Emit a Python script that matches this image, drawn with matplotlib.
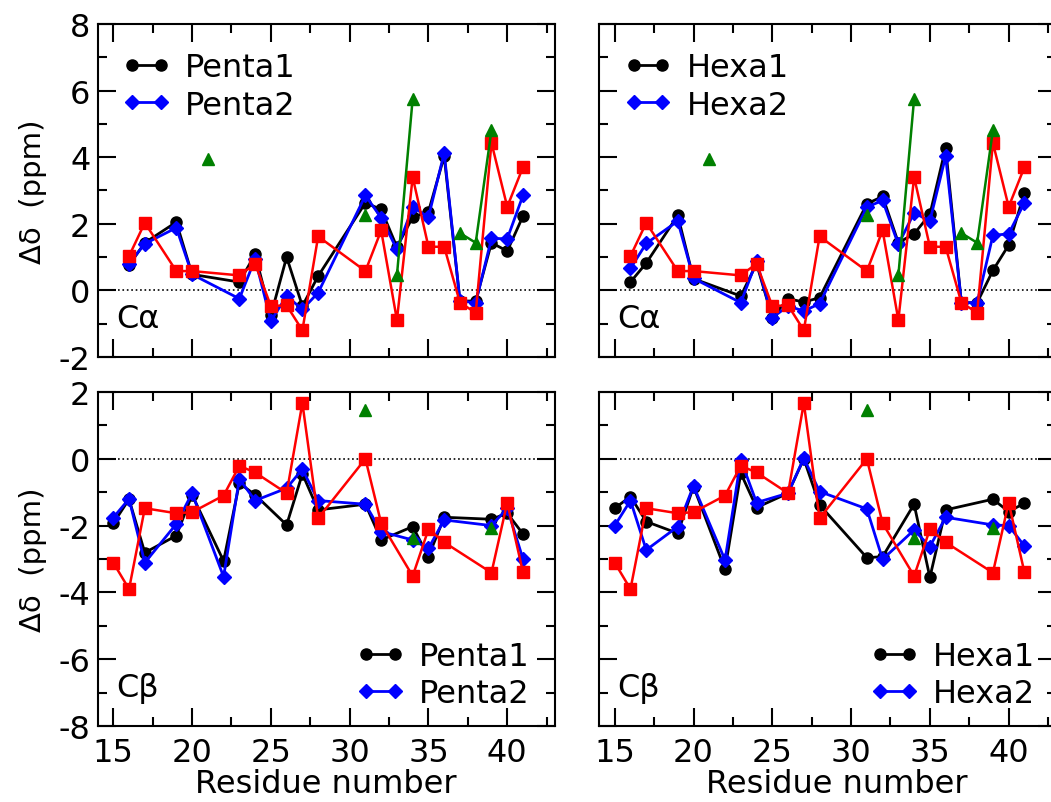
import numpy as np
import matplotlib
matplotlib.use('Agg')
import matplotlib.pyplot as plt
from matplotlib.ticker import MultipleLocator

plt.rcParams['font.family'] = ['DejaVu Sans']
plt.rcParams['axes.unicode_minus'] = False

# C-alpha shifts
ca_res = [16, 17, 19, 20, 23, 24, 25, 26, 27, 28, 31, 32, 33, 34, 35, 36, 37, 38, 39, 40, 41]
ca_penta1 = [0.76, 1.43, 2.05, 0.48, 0.25, 1.08, -0.75, 1.0, -0.47, 0.43, 2.63, 2.43,
             1.3, 2.2, 2.36, 4.03, -0.32, -0.32, 1.43, 1.18, 2.23]
ca_penta2 = [0.8, 1.4, 1.88, 0.48, -0.25, 0.95, -0.92, -0.17, -0.57, -0.07, 2.85, 2.18,
             1.23, 2.5, 2.2, 4.13, -0.32, -0.37, 1.56, 1.55, 2.85]
ca_hexa1 = [0.25, 0.82, 2.25, 0.35, -0.17, 0.8, -0.82, -0.25, -0.35, -0.22, 2.6, 2.82,
            1.43, 1.7, 2.28, 4.28, -0.37, -0.37, 0.6, 1.36, 2.93]
ca_hexa2 = [0.66, 1.41, 2.08, 0.36, -0.37, 0.88, -0.82, -0.47, -0.62, -0.4, 2.5, 2.7,
            1.38, 2.33, 2.08, 4.03, -0.37, -0.37, 1.65, 1.7, 2.63]
ca_ref = [1.03, 2.03, 0.58, 0.58, 0.45, 0.8, -0.47, -0.45, -1.2, 1.62, 0.58, 1.8,
          -0.89, 3.4, 1.31, 1.31, -0.37, -0.67, 4.43, 2.51, 3.7]
ca_alt_res = [21, 31, 33, 34, 37, 38, 39]
ca_alt = [3.96, 2.26, 0.45, 5.76, 1.72, 1.43, 4.81]

# C-beta shifts
cb_res = [15, 16, 17, 19, 20, 22, 23, 24, 26, 27, 28, 31, 32, 34, 35, 36, 39, 40, 41]
cb_penta1 = [-1.93, -1.21, -2.81, -2.3, -1.08, -3.06, -0.73, -1.08, -1.98, -0.45, -1.53,
             -1.36, -2.43, -2.03, -2.93, -1.75, -1.81, -1.63, -2.25]
cb_penta2 = [-1.76, -1.2, -3.11, -1.95, -1.03, -3.53, -0.6, -1.25, -0.88, -0.31, -1.25,
             -1.36, -2.18, -2.43, -2.68, -1.83, -2.0, -1.48, -3.0]
cb_hexa1 = [-1.48, -1.13, -1.88, -2.23, -0.83, -3.31, -0.43, -1.46, -1.03, 0.0, -1.38,
            -2.96, -2.93, -1.36, -3.55, -1.53, -1.21, -1.58, -1.33]
cb_hexa2 = [-2.0, -1.25, -2.73, -2.03, -0.81, -3.03, -0.03, -1.31, -1.03, 0.02, -0.98,
            -1.5, -3.01, -2.13, -2.63, -1.75, -1.98, -2.0, -2.61]
cb_ref = [-3.11, -3.9, -1.48, -1.63, -1.6, -1.1, -0.21, -0.41, -1.03, 1.67, -1.78,
          0.0, -1.93, -3.51, -2.11, -2.5, -3.41, -1.31, -3.4]
cb_alt_res = [31, 34, 39]
cb_alt = [1.45, -2.38, -2.08]

FS = 23


def with_gaps(res, vals):
    # only consecutive residues are joined by a line
    full = np.arange(min(res), max(res) + 1)
    out = np.full(len(full), np.nan)
    for r, v in zip(res, vals):
        out[r - full[0]] = v
    return full, out


def draw_panel(ax, res, s1, s2, ref, alt_res, alt, names, atom, ylim, top):
    ax.axhline(0, xmin=0.045, color='black', linestyle=':', linewidth=1.2)
    ax.plot(res, s1, color='black', marker='o', ms=8, lw=2, label=names[0])
    ax.plot(res, s2, color='blue', marker='D', ms=7.5, lw=2, label=names[1])
    ax.plot(res, ref, color='red', marker='s', ms=9, lw=1.8)
    gx, gy = with_gaps(alt_res, alt)
    ax.plot(gx, gy, color='green', marker='^', ms=8.5, lw=1.8)

    ax.set_xlim(14, 43)
    ax.set_ylim(*ylim)
    ax.xaxis.set_major_locator(MultipleLocator(5))
    ax.xaxis.set_minor_locator(MultipleLocator(2.5))
    ax.yaxis.set_major_locator(MultipleLocator(2))
    ax.yaxis.set_minor_locator(MultipleLocator(1))
    ax.tick_params(which='both', direction='in', top=True, right=True,
                   width=1.5, labelsize=FS)
    ax.tick_params(which='major', length=13)
    ax.tick_params(which='minor', length=6.5)
    ax.tick_params(axis='x', pad=8)
    ax.tick_params(axis='y', pad=5)
    for sp in ax.spines.values():
        sp.set_linewidth(1.5)

    ax.text(0.04, 0.115, atom, transform=ax.transAxes, fontsize=FS, va='center')

    if top:
        ax.legend(loc='upper left', bbox_to_anchor=(0.055, 0.915), frameon=False,
                  fontsize=FS, numpoints=2, handlelength=1.5, handletextpad=0.45,
                  labelspacing=0.2, borderpad=0, borderaxespad=0)
    else:
        ax.legend(loc='lower right', bbox_to_anchor=(0.945 if names[0] == 'Penta1' else 0.955, 0.05),
                  frameon=False, fontsize=FS, numpoints=2, handlelength=1.5,
                  handletextpad=0.45, labelspacing=0.2, borderpad=0, borderaxespad=0)


fig = plt.figure(figsize=(10.51, 8.03), dpi=100)
w, h = 0.4348, 0.4147
ax1 = fig.add_axes([0.0928, 0.5542, w, h])
ax2 = fig.add_axes([0.5699, 0.5542, w, h])
ax3 = fig.add_axes([0.0928, 0.0946, w, 0.416])
ax4 = fig.add_axes([0.5699, 0.0946, w, 0.416])

draw_panel(ax1, ca_res, ca_penta1, ca_penta2, ca_ref, ca_alt_res, ca_alt,
           ['Penta1', 'Penta2'], 'C\u03b1', (-2, 8), True)
draw_panel(ax2, ca_res, ca_hexa1, ca_hexa2, ca_ref, ca_alt_res, ca_alt,
           ['Hexa1', 'Hexa2'], 'C\u03b1', (-2, 8), True)
draw_panel(ax3, cb_res, cb_penta1, cb_penta2, cb_ref, cb_alt_res, cb_alt,
           ['Penta1', 'Penta2'], 'C\u03b2', (-8, 2), False)
draw_panel(ax4, cb_res, cb_hexa1, cb_hexa2, cb_ref, cb_alt_res, cb_alt,
           ['Hexa1', 'Hexa2'], 'C\u03b2', (-8, 2), False)

for ax in (ax1, ax2):
    ax.tick_params(labelbottom=False)
for ax in (ax2, ax4):
    ax.tick_params(labelleft=False)

ax1.set_ylabel('\u0394\u03b4  (ppm)', fontsize=21)
ax1.yaxis.set_label_coords(-0.11, 0.5)
ax3.set_ylabel('\u0394\u03b4  (ppm)', fontsize=21)
ax3.yaxis.set_label_coords(-0.11, 0.5)

ax3.set_xlabel('Residue number', fontsize=FS)
ax3.xaxis.set_label_coords(0.5, -0.125)
ax4.set_xlabel('Residue number', fontsize=FS)
ax4.xaxis.set_label_coords(0.52, -0.125)

fig.savefig('out.png', dpi=100)
